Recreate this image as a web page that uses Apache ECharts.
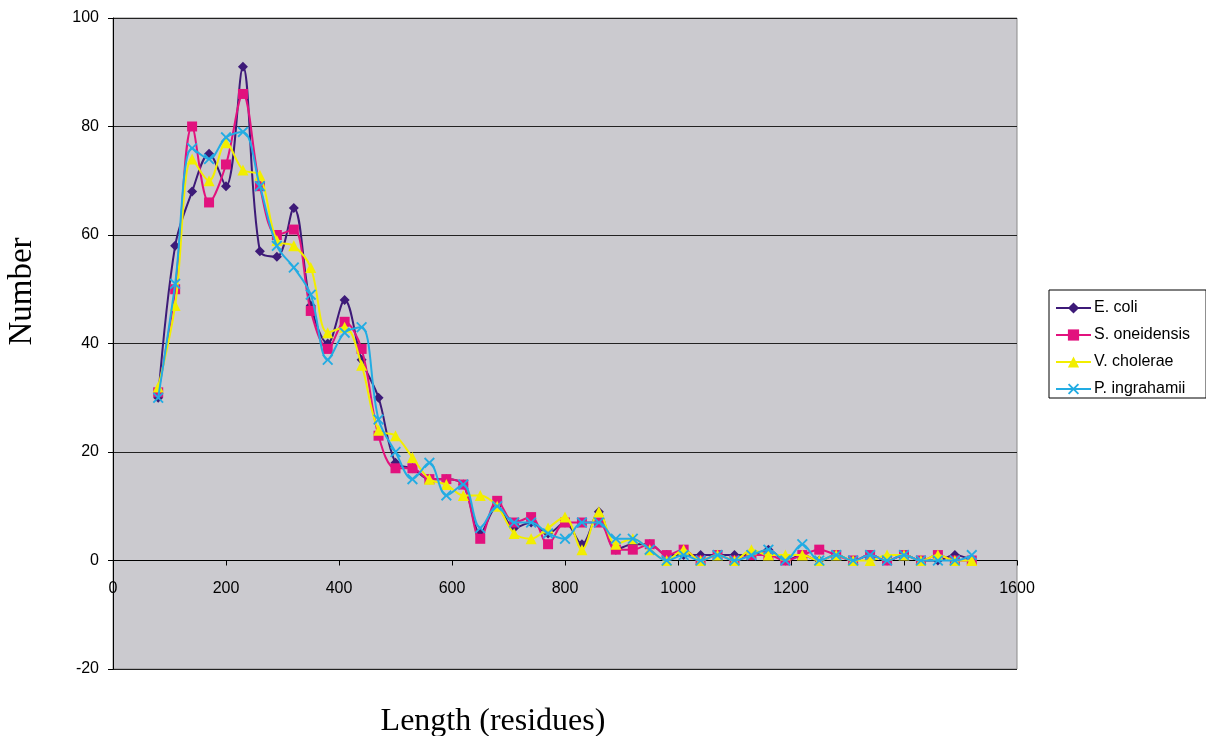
<!DOCTYPE html>
<html>
<head>
<meta charset="utf-8">
<script src="https://cdn.jsdelivr.net/npm/echarts@6/dist/echarts.min.js"></script>
<style>
html,body{margin:0;padding:0;background:#fff;}
#chart{width:1206px;height:736px;}
</style>
</head>
<body>
<div id="chart"></div>
<script>
const lengths = [80,110,140,170,200,230,260,290,320,350,380,410,440,470,500,530,560,590,620,650,680,710,740,770,800,830,860,890,920,950,980,1010,1040,1070,1100,1130,1160,1190,1220,1250,1280,1310,1340,1370,1400,1430,1460,1490,1520];
const eColi = [30,58,68,75,69,91,57,56,65,47, 40,48,37,30,18,17,15,15,14,5, 10,6,7,5,7,3,9,2,3,3, 1,1,1,1,1,1,2,0,1,0, 1,0,1,0,1,0,0,1,0];
const sOneidensis = [31,50,80,66,73,86,69,60,61,46, 39,44,39,23,17,17,15,15,14,4, 11,7,8,3,7,7,7,2,2,3, 1,2,0,1,0,1,1,0,1,2, 1,0,1,0,1,0,1,0,0];
const vCholerae = [32,47,74,70,77,72,71,59,58,54, 42,43,36,24,23,19,15,14,12,12, 10,5,4,6,8,2,9,3,4,2, 0,2,0,1,0,2,1,1,1,0, 1,0,0,1,1,0,1,0,0];
const pIngrahamii = [30,51,76,74,78,79,69,58,54,49, 37,42,43,26,20,15,18,12,14,6, 10,7,7,5,4,7,7,4,4,2, 0,1,0,1,0,1,2,0,3,0, 1,0,1,0,1,0,0,0,1];
const seriesNames = ['E. coli','S. oneidensis','V. cholerae','P. ingrahamii'];
const xTicks = [0,200,400,600,800,1000,1200,1400,1600];
const yTicks = [-20,0,20,40,60,80,100];

const colors = ['#3D1A78','#E2127E','#F2EE00','#22ACE3'];
const crossPath = 'path://M0,1.2L1.2,0L5,3.8L8.8,0L10,1.2L6.2,5L10,8.8L8.8,10L5,6.2L1.2,10L0,8.8L3.8,5Z';
const symbols = ['diamond','rect','triangle',crossPath];
const symbolSizes = [10,10,11,11];
const allData = [eColi, sOneidensis, vCholerae, pIngrahamii];

const gridTop = 18, gridBottom = 67, H = 736;
const plotH = H - gridTop - gridBottom;
const zeroOffset = -plotH * (0 - yTicks[0]) / (yTicks[yTicks.length-1] - yTicks[0]);

const chart = echarts.init(document.getElementById('chart'), null, {renderer:'canvas'});
chart.setOption({
  animation:false,
  backgroundColor:'#ffffff',
  grid:{left:113,right:189,top:gridTop,bottom:gridBottom,containLabel:false,outerBoundsMode:'none',
        show:true,backgroundColor:'#CBCACF',borderColor:'#8a8a8a',borderWidth:1},
  legend:{
    orient:'vertical', left:1049, top:290,
    backgroundColor:'#ffffff', borderColor:'#000', borderWidth:1, borderRadius:0,
    padding:[10,16,1,6], itemGap:11, itemWidth:35, itemHeight:14,
    textStyle:{fontFamily:'Liberation Sans, Arial, sans-serif', fontSize:16, color:'#000', padding:[0,0,0,-2]},
    data:seriesNames
  },
  xAxis:{
    type:'value', min:xTicks[0], max:xTicks[xTicks.length-1], interval:200,
    offset: zeroOffset,
    axisLine:{onZero:false, lineStyle:{color:'#000',width:1}},
    axisTick:{show:true,length:5,inside:false,lineStyle:{color:'#000'}},
    axisLabel:{fontFamily:'Liberation Sans, Arial, sans-serif', fontSize:16, color:'#000', margin:20, formatter:v=>String(v)},
    splitLine:{show:false},
    name:'Length (residues)', nameLocation:'middle', nameGap:145,
    nameTextStyle:{fontFamily:'Liberation Serif, Times New Roman, serif', fontSize:32, color:'#000', padding:[0,144,0,0]}
  },
  yAxis:{
    type:'value', min:yTicks[0], max:yTicks[yTicks.length-1], interval:20,
    axisLine:{show:true, lineStyle:{color:'#000',width:1}},
    axisTick:{show:true,length:5,lineStyle:{color:'#000'}},
    axisLabel:{fontFamily:'Liberation Sans, Arial, sans-serif', fontSize:16, color:'#000', margin:14},
    splitLine:{show:true, lineStyle:{color:'#222',width:1}},
    name:'Number', nameLocation:'middle', nameGap:74, nameRotate:90,
    nameTextStyle:{fontFamily:'Liberation Serif, Times New Roman, serif', fontSize:33, color:'#000', padding:[0,0,0,104]}
  },
  series: allData.map((vals,i)=>({
    name:seriesNames[i], type:'line', smooth:0.35,
    data: lengths.map((x,j)=>[x, vals[j]]),
    symbol:symbols[i], symbolSize:symbolSizes[i], showAllSymbol:true,
    itemStyle:{color:colors[i], borderWidth:0},
    lineStyle:{color:colors[i], width:2},
    z: 2+i
  }))
});
</script>
</body>
</html>
